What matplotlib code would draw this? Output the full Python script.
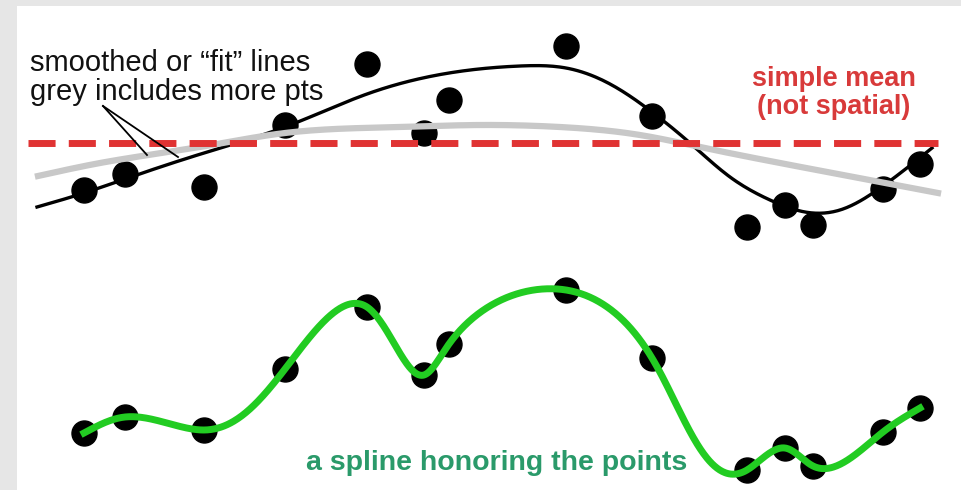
import numpy as np
import matplotlib.pyplot as plt

plt.rcParams['font.family'] = ['Liberation Sans', 'DejaVu Sans']

# sample locations and values (same x for both panels)
xs = np.array([84, 125, 204, 285, 367, 424, 449, 566, 652, 747, 785, 813, 883, 920], float)
y_top = np.array([190, 174, 187, 125, 64, 133, 100, 46, 116, 227, 205, 225, 189, 164], float)
y_bot = np.array([433, 417, 430, 369, 307, 375, 344, 290, 358, 470, 448, 466, 432, 408], float)

# smoothed fit (black) knots
fit_x = np.array([37, 84, 125, 204, 285, 367, 449, 520, 566, 610, 652, 690, 730, 770, 805, 840, 883, 932], float)
fit_y = np.array([207, 193, 179, 153, 127, 94, 73, 66, 68, 84, 112, 143, 177, 200, 212, 210, 186, 148], float)

# broader fit (grey) knots
grey_x = np.array([38, 100, 200, 285, 400, 480, 560, 640, 700, 780, 880, 938], float)
grey_y = np.array([176, 163, 147, 133, 127, 125, 127, 135, 147, 163, 182, 193], float)

mean_y = 143


def cubic_spline(x, y, xn):
    # natural cubic spline
    n = len(x)
    h = np.diff(x)
    A = np.zeros((n, n))
    r = np.zeros(n)
    A[0, 0] = A[-1, -1] = 1
    for i in range(1, n - 1):
        A[i, i - 1] = h[i - 1]
        A[i, i] = 2 * (h[i - 1] + h[i])
        A[i, i + 1] = h[i]
        r[i] = 3 * ((y[i + 1] - y[i]) / h[i] - (y[i] - y[i - 1]) / h[i - 1])
    c = np.linalg.solve(A, r)
    b = (y[1:] - y[:-1]) / h - h * (2 * c[:-1] + c[1:]) / 3
    d = (c[1:] - c[:-1]) / (3 * h)
    k = np.clip(np.searchsorted(x, xn) - 1, 0, n - 2)
    t = xn - x[k]
    return y[k] + b[k] * t + c[k] * t**2 + d[k] * t**3


def param_spline(x, y, num=800):
    # spline in x and y against chord length
    s = np.concatenate([[0], np.cumsum(np.hypot(np.diff(x), np.diff(y)))])
    sn = np.linspace(0, s[-1], num)
    return cubic_spline(s, x, sn), cubic_spline(s, y, sn)


fig = plt.figure(figsize=(9.61, 4.90), dpi=100, facecolor='#e6e6e6')
ax = fig.add_axes([17 / 961, 0, 944 / 961, 484 / 490])
ax.set_facecolor('white')
ax.set_xlim(17, 961)
ax.set_ylim(490, 6)
ax.set_xticks([])
ax.set_yticks([])
for s in ax.spines.values():
    s.set_visible(False)

# top panel
ax.plot(xs, y_top, 'o', color='black', ms=18, zorder=1)
xx = np.linspace(fit_x[0], fit_x[-1], 400)
ax.plot(xx, cubic_spline(fit_x, fit_y, xx), color='black', lw=2.4, zorder=2)
xg = np.linspace(grey_x[0], grey_x[-1], 400)
ax.plot(xg, cubic_spline(grey_x, grey_y, xg), color='#c8c8c8', lw=4.5, zorder=3)
ax.plot([28, 938], [mean_y, mean_y], color='#e03333', lw=5,
        dashes=(3.9, 1.9), zorder=4)

ax.plot([103, 147], [106, 155], color='black', lw=1.3, zorder=5)
ax.plot([103, 178], [106, 157], color='black', lw=1.3, zorder=5)
ax.text(30, 49, 'smoothed or \u201cfit\u201d lines\ngrey includes more pts',
        fontsize=21, color='#111111', va='top', ha='left', linespacing=1.05)
ax.text(834, 66, 'simple mean\n(not spatial)', fontsize=19.5, fontweight='bold',
        color='#d83a3a', va='top', ha='center', linespacing=1.1)

# bottom panel
ax.plot(xs, y_bot, 'o', color='black', ms=18, zorder=1)
gx, gy = param_spline(xs, y_bot)
ax.plot(gx, gy, color='#22cc22', lw=5, zorder=2)
ax.text(497, 463, 'a spline honoring the points', fontsize=20.5, fontweight='bold',
        color='#2a9a6a', va='center', ha='center')

fig.savefig('out.png', dpi=100, facecolor=fig.get_facecolor())
